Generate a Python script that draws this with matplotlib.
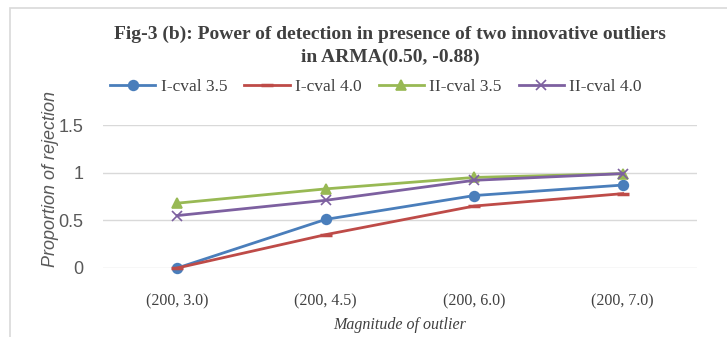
import matplotlib.pyplot as plt
from matplotlib.patches import Rectangle

# Datos
categorias = ['(200, 3.0)', '(200, 4.5)', '(200, 6.0)', '(200, 7.0)']
i_cval_35 = [0.00, 0.51, 0.76, 0.87]
i_cval_40 = [0.00, 0.35, 0.65, 0.78]
ii_cval_35 = [0.68, 0.83, 0.95, 0.99]
ii_cval_40 = [0.55, 0.71, 0.92, 0.99]
yticks = [0, 0.5, 1, 1.5]
ytick_labels = ['0', '0.5', '1', '1.5']

serif = ['Liberation Serif', 'DejaVu Serif']
sans = ['Liberation Sans', 'DejaVu Sans']

fig = plt.figure(figsize=(7.27, 3.37), dpi=100)
ax = fig.add_axes([103 / 727, 1 - 268 / 337, 594 / 727, 143 / 337])

# marco del grafico
fig.patches.append(Rectangle((10 / 727, -0.05), 1.2, 1 - 8 / 337 + 0.05, transform=fig.transFigure,
                             fill=False, edgecolor='#d9d9d9', linewidth=1.2))

x = list(range(len(categorias)))
series = [
    (i_cval_35, 'I-cval 3.5', '#4a7ebb', 'o', 7),
    (i_cval_40, 'I-cval 4.0', '#be4b48', '_', 9),
    (ii_cval_35, 'II-cval 3.5', '#98b954', '^', 7),
    (ii_cval_40, 'II-cval 4.0', '#7d60a0', 'x', 7),
]
for valores, nombre, color, marcador, tam in series:
    ax.plot(x, valores, color=color, linewidth=2, marker=marcador, markersize=tam,
            markeredgewidth=2.5 if marcador == '_' else 1.2, label=nombre, clip_on=False)

ax.set_xlim(-0.5, len(categorias) - 0.5)
ax.set_ylim(0, 1.5)
ax.set_yticks(yticks)
ax.set_yticklabels(ytick_labels, fontfamily=sans, fontsize=13, color='#595959')
ax.set_xticks(x)
ax.set_xticklabels(categorias, fontfamily=serif, fontsize=11.5, color='#404040')
ax.tick_params(length=0, pad=14)
ax.tick_params(axis='x', pad=18)
ax.grid(axis='y', color='#d9d9d9', linewidth=1)
ax.set_axisbelow(True)
for lado in ax.spines.values():
    lado.set_visible(False)

ax.set_ylabel('Proportion of rejection', fontfamily=sans, fontstyle='italic', fontsize=13,
              color='#595959')
ax.yaxis.set_label_coords(-0.074, 0.62)
ax.set_xlabel('Magnitude of outlier', fontfamily=serif, fontstyle='italic', fontsize=11.5,
              color='#404040', labelpad=6)

fig.text(390 / 727, 1 - 46 / 337,
         'Fig-3 (b): Power of detection in presence of two innovative outliers\nin ARMA(0.50, -0.88)',
         ha='center', va='center', fontfamily=serif, fontweight='bold', fontsize=14,
         color='#404040', linespacing=1.4)

fig.legend(loc='center', bbox_to_anchor=(376 / 727, 1 - 87 / 337), ncol=4, frameon=False,
           prop={'family': serif, 'size': 12.5}, handlelength=2.6, columnspacing=1.0,
           handletextpad=0.3, labelcolor='#404040')

fig.savefig('out.png', dpi=100)
